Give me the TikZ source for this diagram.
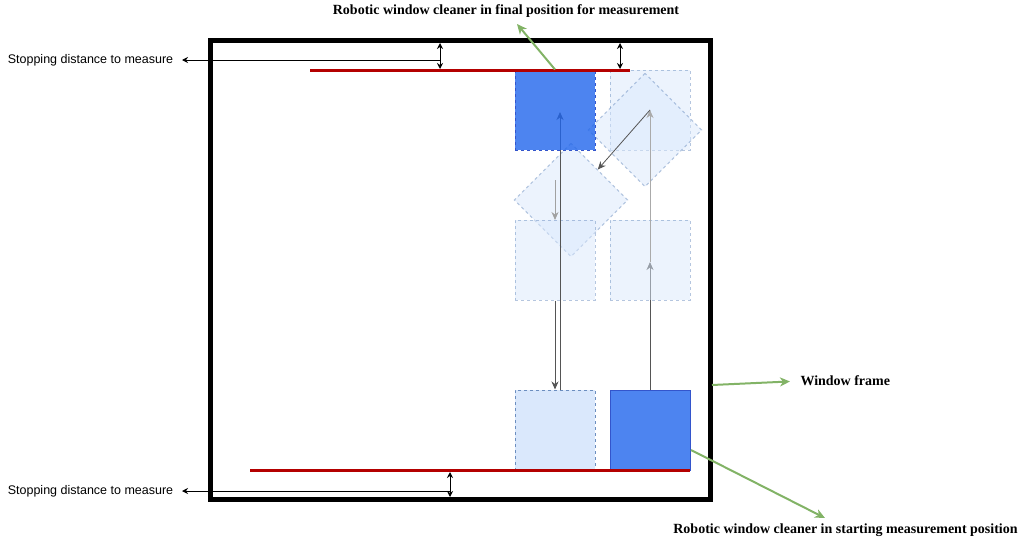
\documentclass[tikz,border=0pt]{standalone}
\usepackage{fontspec}
\setmainfont{Liberation Serif}
\setsansfont{Liberation Sans}
\usepackage{tikz}
\usetikzlibrary{arrows,arrows.meta,shapes,positioning}
\usepackage{xcolor}
\definecolor{wcblue}{RGB}{32,101,236}
\definecolor{wcbluesolid}{RGB}{77,132,240}
\definecolor{wcblueedge}{RGB}{51,85,204}
\definecolor{wcghost}{RGB}{218,232,252}
\definecolor{wcghostedge}{RGB}{108,142,191}
\definecolor{wcred}{RGB}{180,0,0}
\definecolor{wcgreen}{RGB}{130,179,102}
\definecolor{wcgray}{RGB}{85,85,85}
\tikzstyle{dimarrow} = [<->,>={Stealth[length=6pt,width=6pt]},black]
\tikzstyle{callout} = [->,>={Stealth[length=10pt,width=9pt,inset=3pt]},line width=2pt,color=wcgreen]
\tikzstyle{move} = [->,>={Stealth[length=8pt,width=7pt,inset=2.5pt]},color=wcgray]
\tikzstyle{stopline} = [line width=3pt,color=wcred]
\tikzstyle{cleaner} = [rectangle, minimum width=80pt, minimum height=80pt, inner sep=0pt, dash pattern=on 3pt off 3pt]
\tikzstyle{ghost} = [cleaner, draw=wcghostedge, fill=wcghost, draw opacity=0.5, fill opacity=0.5]
\tikzstyle{boldlabel} = [font=\bfseries\fontsize{14}{16}\selectfont]
\tikzstyle{note} = [font=\sffamily\fontsize{12.5}{14}\selectfont]

\begin{document}
\begin{tikzpicture}[x=1pt,y=-1pt,line width=1pt]
\useasboundingbox (0,0) rectangle (1026,541);

% Window frame
\node[draw, line width=5pt, minimum width=500pt, minimum height=459pt, inner sep=0pt] (frame) at (460,269.5) {};

% Path of the cleaner
\coordinate (startc) at (650,430);
\coordinate (turn1) at (650,262);
\coordinate (finalc) at (555,110);
\coordinate (endc) at (555,430);
\draw[move] (startc) ++(0,-40) -- (turn1);

% Ghost positions
\node[ghost] (g1) at (650,110) {};
\node[ghost, rotate=45] (d1) at (645,130) {};
\node[ghost, rotate=45] (d2) at (571,200) {};
\node[ghost] (g2) at (555,260) {};
\node[ghost] (g3) at (650,260) {};

\draw[move, color=wcgray!50] (turn1) -- (g1.center);
\draw[move, line width=0.8pt] (g1.center) -- (d2);
\coordinate (turn2a) at (555,180);
\coordinate (turn2b) at (555,220);
\draw[move, color=wcgray!55] (turn2a) -- (turn2b);

% Start and end positions
\node[cleaner, fill=wcghost, draw=wcghostedge] (endpos) at (endc) {};
\node[cleaner, fill=wcbluesolid, draw=wcblueedge, solid] (startpos) at (startc) {};
\draw[move] (g2.south) -- (endpos.north);
\draw[move] ([xshift=5pt]endpos.north) -- ([xshift=5pt,yshift=-2pt]finalc);

% Final position
\node[cleaner, fill=wcblue, fill opacity=0.8, draw=wcblueedge] (finalpos) at (finalc) {};

% Stopping lines
\draw[stopline] (310,70) -- (630,70);
\draw[stopline] (250,470) -- (690,470);

% Stopping distances
\coordinate (topedge1) at (440,43);
\coordinate (topline1) at (440,69);
\coordinate (topedge2) at (620,43);
\coordinate (topline2) at (620,69);
\coordinate (dimtop) at (440,60);
\coordinate (botline) at (450,472);
\coordinate (botedge) at (450,497);
\coordinate (dimbot) at (450,491);
\draw[dimarrow] (topedge1) -- (topline1);
\draw[dimarrow] (topedge2) -- (topline2);
\draw[dimarrow] (botline) -- (botedge);

\node[note, anchor=west] (stoptop) at (4,60) {Stopping distance to measure};
\node[note, anchor=west] (stopbot) at (4,491) {Stopping distance to measure};
\coordinate (stoptip1) at (182,60);
\coordinate (stoptip2) at (182,491);
\draw[->,>={Stealth[length=6pt,width=6pt]}] (dimtop) -- (stoptip1);
\draw[->,>={Stealth[length=6pt,width=6pt]}] (dimbot) -- (stoptip2);

% Labels
\node[boldlabel] (finaltxt) at (506,11) {Robotic window cleaner in final position for measurement};
\node[boldlabel, anchor=west, inner sep=0pt] (frametxt) at (800,381) {Window frame};
\node[boldlabel] (starttxt) at (845.5,530) {Robotic window cleaner in starting measurement position};

\coordinate (finaltip) at (517,24);
\coordinate (frameside) at (712,385);
\coordinate (startside) at (691,450);
\coordinate (starttip) at (825,518);
\draw[callout] (finalpos.north) -- (finaltip);
\draw[callout, shorten >=10pt] (frameside) -- (frametxt.west);
\draw[callout] (startside) -- (starttip);
\end{tikzpicture}
\end{document}
